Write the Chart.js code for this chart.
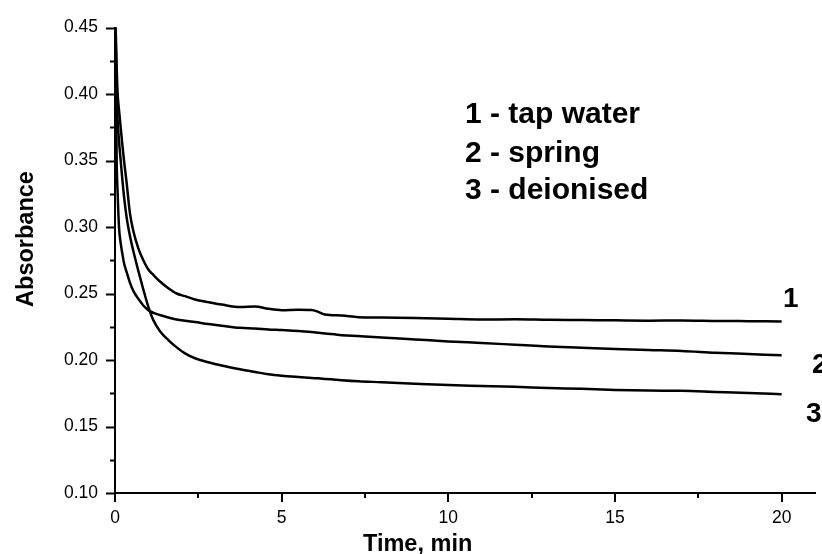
<!DOCTYPE html>
<html>
<head>
<meta charset="utf-8">
<script src="https://cdn.jsdelivr.net/npm/chart.js@4.4.1/dist/chart.umd.min.js"></script>
<style>
  body { margin: 0; background: #fff; }
  #wrap { width: 822px; height: 554px; }
</style>
</head>
<body>
<div id="wrap"><canvas id="absChart"></canvas></div>
<script>
// -------------------------
// Data
// -------------------------
const timeMin = [0, 0.03, 0.05, 0.08, 0.12, 0.17, 0.22, 0.27, 0.35, 0.45, 0.55, 0.7, 0.85, 1.0, 1.15, 1.35, 1.6,
  1.85, 2.1, 2.4, 2.8, 3.2, 3.75, 4.2, 4.6, 5.0, 5.5, 5.9, 6.1, 6.3, 6.8, 7.3, 8, 9, 10, 11, 12, 13, 14, 15,
  16, 17, 18, 19, 20];

const tapWater = [0.47, 0.44, 0.42, 0.40, 0.388, 0.375, 0.362, 0.35, 0.333, 0.310, 0.297, 0.284, 0.275, 0.268,
  0.264, 0.259, 0.254, 0.250, 0.248, 0.2455, 0.2435, 0.2417, 0.2398, 0.2402, 0.2385, 0.2375, 0.2378, 0.2376,
  0.2362, 0.2342, 0.2335, 0.2322, 0.2320, 0.2316, 0.2310, 0.2304, 0.2306, 0.2302, 0.2300, 0.2298, 0.2296,
  0.2297, 0.2294, 0.2292, 0.2290];

const spring = [0.47, 0.40, 0.35, 0.325, 0.300, 0.288, 0.280, 0.273, 0.266, 0.258, 0.252, 0.246, 0.241, 0.2375,
  0.2355, 0.2338, 0.232, 0.2305, 0.2295, 0.2285, 0.227, 0.2258, 0.2242, 0.2237, 0.2230, 0.2225, 0.2218, 0.2210,
  0.2205, 0.2200, 0.2187, 0.2180, 0.2170, 0.2155, 0.2140, 0.2128, 0.2115, 0.2102, 0.2092, 0.2083, 0.2075,
  0.2068, 0.2055, 0.2045, 0.2035];

const deionised = [0.47, 0.43, 0.40, 0.38, 0.365, 0.35, 0.336, 0.323, 0.307, 0.293, 0.282, 0.267, 0.253, 0.240,
  0.230, 0.2217, 0.215, 0.2095, 0.205, 0.2013, 0.1983, 0.1958, 0.1930, 0.1910, 0.1893, 0.1882, 0.1872, 0.1865,
  0.1862, 0.1858, 0.1848, 0.1840, 0.1833, 0.1822, 0.1812, 0.1805, 0.1798, 0.1790, 0.1783, 0.1775, 0.1770,
  0.1768, 0.1760, 0.1752, 0.1743];

const xMajorTicks = [0, 5, 10, 15, 20];
const xMinorTicks = [2.5, 7.5, 12.5, 17.5];
const yMajorTicks = [0.10, 0.15, 0.20, 0.25, 0.30, 0.35, 0.40, 0.45];
const yMinorTicks = [0.125, 0.175, 0.225, 0.275, 0.325, 0.375, 0.425];

const legendLines = ["1 - tap water", "2 - spring", "3 - deionised"];
const curveLabels = ["1", "2", "3"];

const FONT = "'Liberation Sans', Arial, sans-serif";

function toPoints(values) {
  return timeMin.map((t, i) => ({ x: t, y: values[i] }));
}

function lineSet(values) {
  return {
    data: toPoints(values),
    borderColor: '#000',
    borderWidth: 2.5,
    pointRadius: 0,
    fill: false,
    cubicInterpolationMode: 'monotone'
  };
}

// -------------------------
// Ticks, titles and labels
// -------------------------
const decorations = {
  id: 'decorations',
  afterDraw(chart) {
    const ctx = chart.ctx;
    const xs = chart.scales.x;
    const ys = chart.scales.y;
    const area = chart.chartArea;
    ctx.save();
    ctx.strokeStyle = '#000';
    ctx.lineWidth = 2;

    const yTick = (v, len) => {
      const p = Math.round(ys.getPixelForValue(v)) + 0.5;
      ctx.beginPath();
      ctx.moveTo(area.left - len, p);
      ctx.lineTo(area.left, p);
      ctx.stroke();
    };
    const xTick = (v, len) => {
      const p = Math.round(xs.getPixelForValue(v));
      ctx.beginPath();
      ctx.moveTo(p, area.bottom);
      ctx.lineTo(p, area.bottom + len);
      ctx.stroke();
    };
    yMajorTicks.forEach(v => yTick(v, 9));
    yMinorTicks.forEach(v => yTick(v, 5));
    xMajorTicks.forEach(v => xTick(v, 9));
    xMinorTicks.forEach(v => xTick(v, 5));

    ctx.fillStyle = '#000';
    ctx.textBaseline = 'alphabetic';
    ctx.textAlign = 'left';

    // axis titles
    ctx.font = "bold 23.5px " + FONT;
    ctx.fillText("Time, min", 363, 551);
    ctx.save();
    ctx.translate(33, 239);
    ctx.rotate(-Math.PI / 2);
    ctx.textAlign = 'center';
    ctx.fillText("Absorbance", 0, 0);
    ctx.restore();

    // legend block
    ctx.font = "bold 30px " + FONT;
    const legendBase = [123, 162, 199];
    legendLines.forEach((txt, i) => ctx.fillText(txt, 465, legendBase[i]));

    // curve numbers on the right
    ctx.font = "bold 28px " + FONT;
    const labelPos = [[783, 307], [812, 373], [806, 422]];
    curveLabels.forEach((txt, i) => ctx.fillText(txt, labelPos[i][0], labelPos[i][1]));

    ctx.restore();
  }
};

// -------------------------
// Chart
// -------------------------
const ctx = document.getElementById("absChart").getContext("2d");
new Chart(ctx, {
  type: 'line',
  data: {
    datasets: [lineSet(tapWater), lineSet(spring), lineSet(deionised)]
  },
  options: {
    responsive: true,
    maintainAspectRatio: false,
    animation: false,
    devicePixelRatio: 1,
    layout: { padding: { top: 25, right: 7, left: 0, bottom: 0 } },
    plugins: {
      legend: { display: false },
      tooltip: { enabled: false }
    },
    scales: {
      x: {
        type: 'linear',
        min: 0,
        max: 21,
        afterFit: s => { s.height = 61; },
        afterBuildTicks: s => { s.ticks = xMajorTicks.map(v => ({ value: v })); },
        grid: { display: false, drawTicks: false },
        border: { display: true, color: '#000', width: 2 },
        ticks: {
          padding: 15,
          color: '#000',
          font: { family: FONT, size: 17.5 },
          callback: v => String(v)
        }
      },
      y: {
        type: 'linear',
        min: 0.10,
        max: 0.45,
        afterFit: s => { s.width = 115; },
        afterBuildTicks: s => { s.ticks = yMajorTicks.map(v => ({ value: v })); },
        grid: { display: false, drawTicks: false },
        border: { display: true, color: '#000', width: 2 },
        ticks: {
          padding: 17,
          color: '#000',
          font: { family: FONT, size: 17.5 },
          callback: v => v.toFixed(2)
        }
      }
    }
  },
  plugins: [decorations]
});
</script>
</body>
</html>
